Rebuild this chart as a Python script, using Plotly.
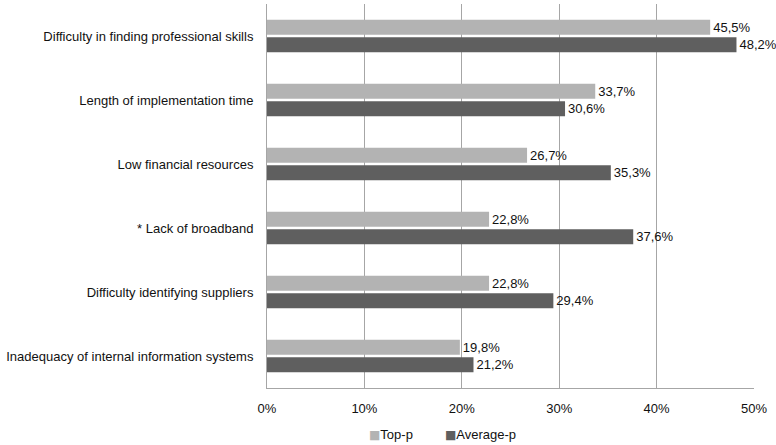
import plotly.graph_objects as go

categories = [
    "Difficulty in finding professional skills",
    "Length of implementation time",
    "Low financial resources",
    "* Lack of broadband",
    "Difficulty identifying suppliers",
    "Inadequacy of internal information systems",
]
top_p = [45.5, 33.7, 26.7, 22.8, 22.8, 19.8]
average_p = [48.2, 30.6, 35.3, 37.6, 29.4, 21.2]
x_ticks = [0, 10, 20, 30, 40, 50]
x_tick_labels = ["0%", "10%", "20%", "30%", "40%", "50%"]

FONT = "Liberation Sans, Arial, sans-serif"
TEXT = "#111111"
LIGHT = "#b3b3b3"
DARK = "#5f5f5f"
GRID = "#a6a6a6"

fig = go.Figure()
fig.add_trace(go.Bar(
    name="Top-p", y=categories, x=top_p, orientation="h",
    marker=dict(color=LIGHT, line=dict(width=0)),
    texttemplate="%{x:.1f}%", textposition="outside", cliponaxis=False,
    textfont=dict(size=13, color=TEXT, family=FONT),
))
fig.add_trace(go.Bar(
    name="Average-p", y=categories, x=average_p, orientation="h",
    marker=dict(color=DARK, line=dict(width=0)),
    texttemplate="%{x:.1f}%", textposition="outside", cliponaxis=False,
    textfont=dict(size=13, color=TEXT, family=FONT),
))

# Legend drawn as two text entries below the axis
legend_entries = [("Top-p", LIGHT, 0.2053), ("Average-p", DARK, 0.3614)]
annotations = [
    dict(
        text=(f"<span style='color:{c};font-family:DejaVu Sans;font-size:12px'>■</span>"
              f"{name}"),
        x=xp, y=-0.122, xref="paper", yref="paper",
        xanchor="left", yanchor="middle", showarrow=False,
        font=dict(size=13, color=TEXT, family=FONT),
    )
    for name, c, xp in legend_entries
]

fig.update_layout(
    width=776, height=445,
    margin=dict(l=267, r=22, t=4, b=57),
    paper_bgcolor="white", plot_bgcolor="white",
    separators=",.",
    barmode="group", bargap=0.45, bargroupgap=0.14,
    font=dict(family=FONT, size=13, color=TEXT),
    showlegend=False,
    annotations=annotations,
    xaxis=dict(
        range=[0, 50], tickmode="array", tickvals=x_ticks, ticktext=x_tick_labels,
        showgrid=True, gridcolor=GRID, gridwidth=1,
        zeroline=False, showline=True, linecolor=GRID, linewidth=1,
        ticks="", ticklabelstandoff=8,
        tickfont=dict(size=13, color=TEXT),
        fixedrange=True,
    ),
    yaxis=dict(
        autorange="reversed", showgrid=False, showline=True,
        linecolor=GRID, linewidth=1, ticks="", ticklabelstandoff=10,
        tickfont=dict(size=13, color=TEXT),
        fixedrange=True,
    ),
)

fig.write_html("out.html")
